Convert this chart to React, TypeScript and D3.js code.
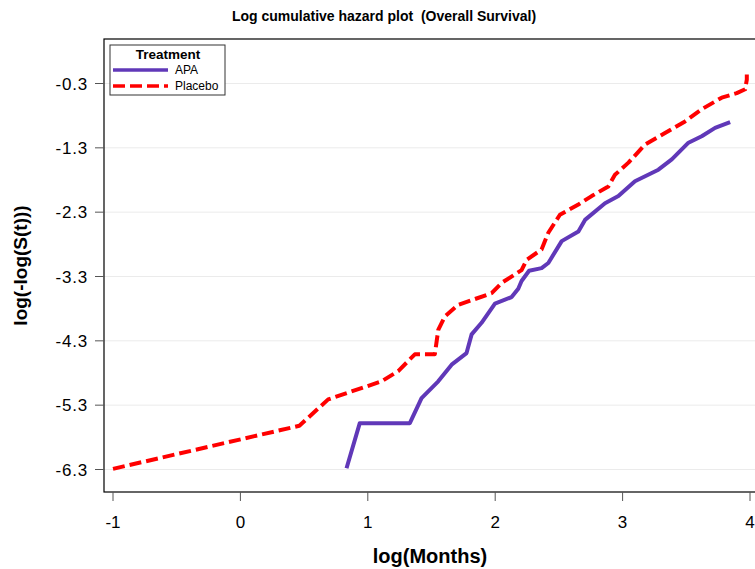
import React from 'react';
import * as d3 from 'd3';

// Datos: log(Months) y log(-log(S(t)))
const apaX = [0.833, 0.937, 1.33, 1.422, 1.553, 1.658, 1.775, 1.815, 1.893, 1.998, 2.129, 2.181, 2.207, 2.266, 2.364, 2.417, 2.522, 2.653, 2.705, 2.862, 2.967, 3.097, 3.281, 3.386, 3.517, 3.621, 3.726, 3.844];
const apaY = [-6.28, -5.58, -5.58, -5.19, -4.93, -4.67, -4.49, -4.2, -4.02, -3.72, -3.62, -3.49, -3.37, -3.21, -3.17, -3.09, -2.75, -2.6, -2.42, -2.16, -2.05, -1.82, -1.64, -1.48, -1.22, -1.12, -0.99, -0.9];
const placeboX = [-1.0, 0.463, 0.689, 0.793, 1.108, 1.239, 1.369, 1.526, 1.553, 1.605, 1.71, 1.841, 1.972, 2.05, 2.207, 2.247, 2.364, 2.417, 2.508, 2.653, 2.757, 2.888, 2.94, 3.046, 3.176, 3.333, 3.49, 3.621, 3.778, 3.896, 3.962, 3.975, 3.975];
const placeboY = [-6.29, -5.62, -5.21, -5.14, -4.93, -4.77, -4.51, -4.51, -4.13, -3.92, -3.74, -3.65, -3.56, -3.4, -3.2, -3.04, -2.88, -2.62, -2.34, -2.18, -2.05, -1.9, -1.72, -1.53, -1.25, -1.07, -0.89, -0.7, -0.52, -0.45, -0.39, -0.24, -0.16];
const xTicks = [-1, 0, 1, 2, 3, 4];
const yTicks = [-0.3, -1.3, -2.3, -3.3, -4.3, -5.3, -6.3];

const series = [
  { name: 'APA', xs: apaX, ys: apaY, color: '#6038B8', dash: '' },
  { name: 'Placebo', xs: placeboX, ys: placeboY, color: '#FF0000', dash: '12,5' },
];

const App: React.FC = () => {
  const width = 755;
  const height = 569;
  const left = 104;
  const right = 756;
  const top = 39;
  const bottom = 492;

  const x = d3.scaleLinear().domain([-1, 4]).range([113, 750]);
  const y = d3.scaleLinear().domain([-6.3, -0.3]).range([469.5, 83.5]);

  const line = d3.line<[number, number]>().x((d) => x(d[0])).y((d) => y(d[1]));
  const font = '"Liberation Sans", Arial, sans-serif';

  return (
    <svg width={width} height={height} style={{ position: 'absolute', left: 0, top: 0, background: '#fff' }}>
      <text x={384} y={21} textAnchor="middle" fontFamily={font} fontWeight="bold" fontSize={14} style={{ whiteSpace: 'pre' }}>
        {'Log cumulative hazard plot  (Overall Survival)'}
      </text>

      {/* rejilla */}
      {yTicks.map((t) => (
        <line key={'g' + t} x1={left} x2={right} y1={y(t)} y2={y(t)} stroke="#ebebeb" strokeWidth={1} />
      ))}

      {/* curvas */}
      <defs>
        <clipPath id="plot">
          <rect x={left} y={top} width={right - left} height={bottom - top} />
        </clipPath>
      </defs>
      <g clipPath="url(#plot)">
        {series.map((s) => (
          <path
            key={s.name}
            d={line(s.xs.map((v, i) => [v, s.ys[i]] as [number, number])) || ''}
            fill="none"
            stroke={s.color}
            strokeWidth={4}
            strokeDasharray={s.dash}
            strokeLinejoin="round"
          />
        ))}
      </g>

      {/* marco */}
      <rect x={left} y={top} width={right - left} height={bottom - top} fill="none" stroke="#000" strokeWidth={1.2} />

      {/* eje y */}
      {yTicks.map((t) => (
        <g key={'y' + t}>
          <line x1={left - 9} x2={left} y1={y(t)} y2={y(t)} stroke="#555" />
          <text x={left - 16} y={y(t)} dy="0.36em" textAnchor="end" fontFamily={font} fontSize={17} letterSpacing={0.8}>
            {t.toFixed(1)}
          </text>
        </g>
      ))}

      {/* eje x */}
      {xTicks.map((t) => (
        <g key={'x' + t}>
          <line x1={x(t)} x2={x(t)} y1={bottom} y2={bottom + 9} stroke="#555" />
          <text x={x(t)} y={bottom + 36} textAnchor="middle" fontFamily={font} fontSize={17}>
            {t}
          </text>
        </g>
      ))}

      <text x={(left + right) / 2} y={563} textAnchor="middle" fontFamily={font} fontWeight="bold" fontSize={20}>
        log(Months)
      </text>
      <text transform={`translate(27,${(top + bottom) / 2}) rotate(-90)`} textAnchor="middle" fontFamily={font} fontWeight="bold" fontSize={19}>
        log(-log(S(t)))
      </text>

      {/* leyenda */}
      <rect x={110} y={45} width={115} height={50} fill="#fff" stroke="#333" strokeWidth={1} />
      <text x={168} y={59} textAnchor="middle" fontFamily={font} fontWeight="bold" fontSize={13.5}>
        Treatment
      </text>
      {series.map((s, i) => (
        <g key={'l' + s.name}>
          <line x1={113} x2={168} y1={70 + i * 16} y2={70 + i * 16} stroke={s.color} strokeWidth={3.5} strokeDasharray={s.dash} />
          <text x={175} y={70 + i * 16} dy="0.36em" fontFamily={font} fontSize={12}>
            {s.name}
          </text>
        </g>
      ))}
    </svg>
  );
};

export default App;
